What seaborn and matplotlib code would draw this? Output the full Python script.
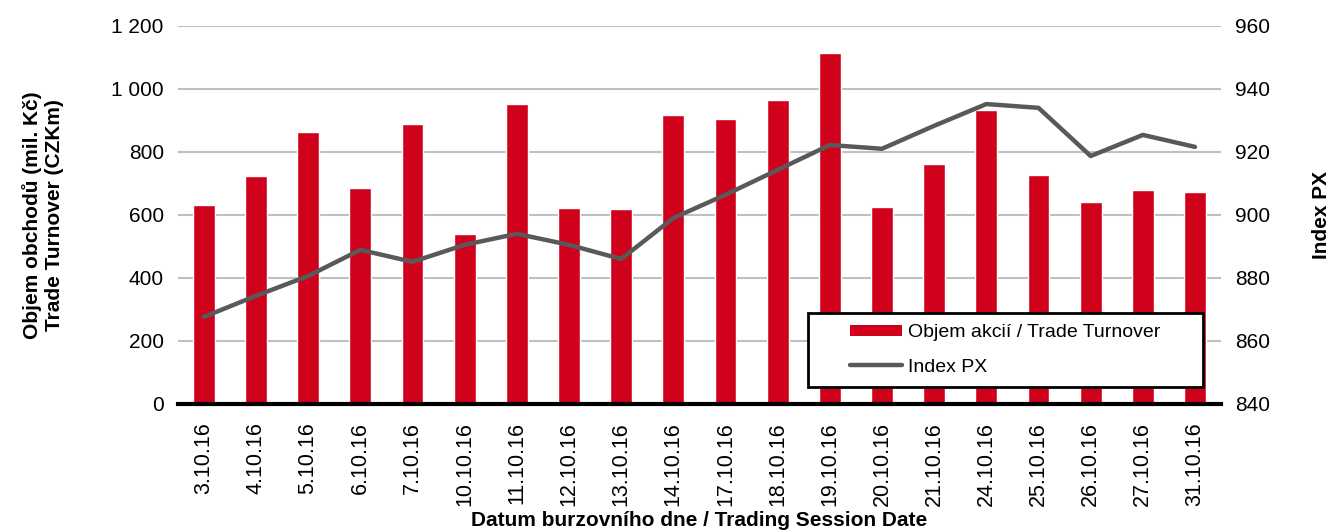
from matplotlib import pyplot as plt
from matplotlib.lines import Line2D
from matplotlib.patches import Patch, Rectangle
import seaborn as sns
import numpy as np
import pandas as pd

dates = ['3.10.16', '4.10.16', '5.10.16', '6.10.16', '7.10.16', '10.10.16', '11.10.16',
         '12.10.16', '13.10.16', '14.10.16', '17.10.16', '18.10.16', '19.10.16', '20.10.16',
         '21.10.16', '24.10.16', '25.10.16', '26.10.16', '27.10.16', '31.10.16']
turnover = [630, 722, 862, 685, 888, 540, 952, 622, 619, 917,
            903, 965, 1113, 626, 763, 932, 727, 642, 678, 673]
index_px = [867.6, 874.3, 880.6, 888.9, 885.1, 890.5, 894.0, 890.5, 886.0, 899.0,
            906.4, 914.3, 922.2, 921.0, 928.3, 935.2, 934.0, 918.7, 925.4, 921.6]

red = '#D0021B'
grey = '#595959'

sns.set_theme(style="white")
plt.rcParams['font.family'] = ['Liberation Sans', 'DejaVu Sans']
plt.rcParams['text.color'] = 'black'
plt.rcParams['axes.labelcolor'] = 'black'
plt.rcParams['xtick.color'] = 'black'
plt.rcParams['ytick.color'] = 'black'

df = pd.DataFrame({'date': dates, 'turnover': turnover, 'px': index_px})
df['pos'] = np.arange(len(df))

fig = plt.figure(figsize=(13.36, 5.3), dpi=100)
ax = fig.add_axes([0.133, 0.238, 0.781, 0.713])

sns.barplot(data=df, x='date', y='turnover', color=red, saturation=1, width=0.42, ax=ax, zorder=2)
ax.set_ylim(0, 1200)
ax.set_yticks(range(0, 1201, 200))
ax.set_yticklabels(['{:,}'.format(v).replace(',', ' ') for v in range(0, 1201, 200)], fontsize=15)
ax.yaxis.grid(True, color='#C0C0C0', linewidth=1.5, zorder=0)
ax.set_axisbelow(True)
ax.set_xlim(-0.5, len(dates) - 0.5)

# x axis: labels centred, ticks on category boundaries
ax.tick_params(axis='x', which='major', length=0, labelsize=15.5, labelrotation=90, pad=13)
ax.set_xticks(np.arange(-0.5, len(dates)), minor=True)
ax.tick_params(axis='x', which='minor', length=6, width=2.5, color='black', direction='out')
ax.tick_params(axis='y', length=0, pad=10)
for s in ['left', 'right', 'top']:
    ax.spines[s].set_visible(False)
ax.spines['bottom'].set_color('black')
ax.spines['bottom'].set_linewidth(3)

ax.set_xlabel('Datum burzovního dne / Trading Session Date', fontsize=15, fontweight='bold', labelpad=4)
ax.set_ylabel('Objem obchodů (mil. Kč)\nTrade Turnover (CZKm)', fontsize=15, fontweight='bold', labelpad=34)

ax2 = ax.twinx()
sns.lineplot(data=df, x='pos', y='px', color=grey, linewidth=3.2, ax=ax2, zorder=3)
ax2.set_ylim(840, 960)
ax2.set_yticks(range(840, 961, 20))
ax2.tick_params(axis='y', length=0, labelsize=15, pad=10)
for s in ['left', 'right', 'top', 'bottom']:
    ax2.spines[s].set_visible(False)
ax2.set_ylabel('Index PX', fontsize=15, fontweight='bold', labelpad=30)
ax2.set_xlim(-0.5, len(dates) - 0.5)

# legend box: wide white frame with the entries inset
ax2.add_patch(Rectangle((0.604, 0.045), 0.379, 0.196, transform=ax2.transAxes,
                        facecolor='white', edgecolor='black', linewidth=2, zorder=9))
handles = [Patch(facecolor=red, edgecolor='none'),
           Line2D([0], [0], color=grey, linewidth=3.2)]
leg = ax2.legend(handles, ['Objem akcií / Trade Turnover', 'Index PX'],
                 loc='center left', bbox_to_anchor=(0.644, 0.143), fontsize=14,
                 frameon=False, handlelength=2.68, handleheight=0.5, handletextpad=0.3,
                 borderpad=0, labelspacing=0.9, borderaxespad=0)
leg.set_zorder(10)

fig.savefig('out.png', dpi=100)
